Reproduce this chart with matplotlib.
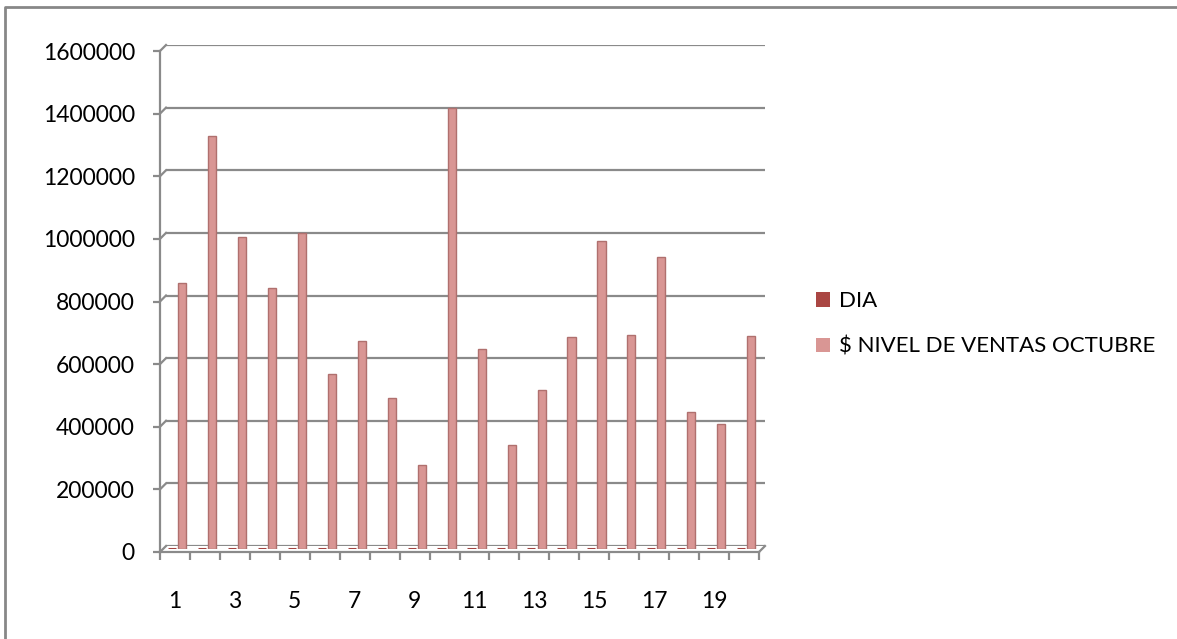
import matplotlib
matplotlib.use("Agg")
import matplotlib.pyplot as plt
from matplotlib.lines import Line2D
from matplotlib.patches import Patch
from matplotlib.transforms import IdentityTransform
import numpy as np

# Daily sales for October
days = list(range(1, 21))
dia_values = days[:]  # the "DIA" series holds the day number itself
ventas_octubre = [848000, 1318000, 998000, 833000, 1008000, 558000, 663000,
                  483000, 268000, 1408000, 638000, 333000, 508000, 678000,
                  983000, 683000, 933000, 438000, 398000, 681000]
y_ticks = [0, 200000, 400000, 600000, 800000, 1000000, 1200000, 1400000, 1600000]
x_tick_labels = [str(d) for d in days[::2]]
series_names = ["DIA", "$ NIVEL DE VENTAS OCTUBRE"]

W, H = 1177, 639
plt.rcParams["font.family"] = ["Lato", "DejaVu Sans"]
FS = 16.5
GRID = "#8a8a8a"
C_DIA = "#AA4643"
C_VENTAS = "#D99694"

fig = plt.figure(figsize=(W / 100, H / 100), dpi=100)
fig.patch.set_facecolor("white")

def frac(x0, y0, x1, y1):
    # pixel box (top-left origin) -> figure fraction rect
    return [x0 / W, (H - y1) / H, (x1 - x0) / W, (y1 - y0) / H]

def shifted(box, dx, dy):
    return (box[0] + dx, box[1] + dy, box[2] + dx, box[3] + dy)

# depth offset of the 3D floor (front -> back)
DX, DY = 6, -6
front_box = (160, 51, 759, 552)
back_box = shifted(front_box, DX, DY)
mid_box = shifted(front_box, DX / 2, DY / 2)

def bare_axes(box):
    a = fig.add_axes(frac(*box))
    a.set_xlim(0.5, 20.5)
    a.set_ylim(0, 1600000)
    a.patch.set_alpha(0)
    for s in a.spines.values():
        s.set_visible(False)
    a.set_xticks([])
    a.set_yticks([])
    return a

# back wall with gridlines
ax = bare_axes(back_box)
for v in y_ticks:
    ax.axhline(v, color=GRID, lw=1.6, zorder=1)

# columns stand half way into the floor
bx_ax = bare_axes(mid_box)
x = np.array(days, dtype=float)
bw = 0.27
bx_ax.bar(x - 0.20, dia_values, width=bw, color=C_DIA, edgecolor="#a04340",
          linewidth=2.2, zorder=3)
bx_ax.bar(x + 0.14, ventas_octubre, width=bw, color=C_VENTAS, edgecolor="#b0706e",
          linewidth=1.0, zorder=3)

# front axes carrying the tick labels
fa = fig.add_axes(frac(*front_box))
fa.set_xlim(0.5, 20.5)
fa.set_ylim(0, 1600000)
fa.patch.set_alpha(0)
fa.spines["top"].set_visible(False)
fa.spines["right"].set_visible(False)
for s in ("left", "bottom"):
    fa.spines[s].set_color(GRID)
    fa.spines[s].set_linewidth(1.6)
fa.set_yticks(y_ticks)
fa.set_yticklabels([str(v) for v in y_ticks])
fa.tick_params(axis="y", direction="out", length=5, width=1.6, color=GRID,
               pad=13, labelsize=FS, labelcolor="black")
fa.set_xticks(days[::2])
fa.set_xticklabels(x_tick_labels)
fa.set_xticks(np.arange(0.5, 21, 1.0), minor=True)
fa.tick_params(axis="x", which="major", length=0, pad=28, labelsize=FS,
               labelcolor="black")
fa.tick_params(axis="x", which="minor", direction="out", length=6, width=1.6,
               color=GRID)

# connectors from the front axis to the back-wall gridlines, and floor edge
for v in y_ticks:
    bx, by = ax.transData.transform((0.5, v))
    fx, fy = fa.transData.transform((0.5, v))
    fig.add_artist(Line2D([fx, bx], [fy, by], transform=IdentityTransform(),
                          color=GRID, lw=1.6))
bx, by = ax.transData.transform((20.5, 0))
fx, fy = fa.transData.transform((20.5, 0))
fig.add_artist(Line2D([fx, bx], [fy, by], transform=IdentityTransform(),
                      color=GRID, lw=1.6))

# legend
handles = [Patch(facecolor=C_DIA, edgecolor="none"),
           Patch(facecolor=C_VENTAS, edgecolor="none")]
fig.legend(handles, series_names, loc="center left",
           bbox_to_anchor=(816 / W, (H - 324) / H), frameon=False,
           fontsize=16, borderpad=0, borderaxespad=0, handlelength=0.64,
           handleheight=0.64, handletextpad=0.4, labelspacing=1.15)

# chart border (top and left edges visible)
fig.add_artist(Line2D([5, 5, W], [0, H - 7, H - 7], transform=IdentityTransform(),
                      color="#878787", lw=2))

fig.savefig("out.png", dpi=100, facecolor="white")
